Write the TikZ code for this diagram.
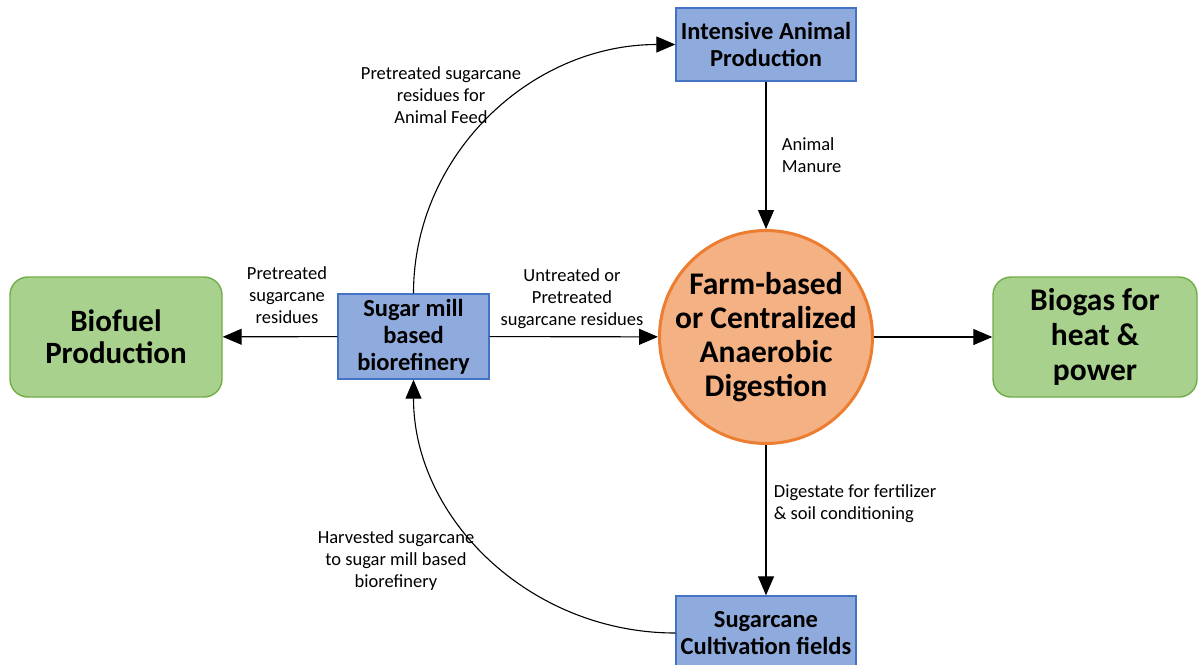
\documentclass[tikz,border=0pt]{standalone}
\usepackage{fontspec}
\setmainfont{Carlito}
\usetikzlibrary{arrows.meta, shapes, positioning, calc}
\definecolor{stepblue}{HTML}{8FAADC}
\definecolor{stepblueline}{HTML}{4472C4}
\definecolor{outgreen}{HTML}{A9D18E}
\definecolor{outgreenline}{HTML}{70AD47}
\definecolor{digestfill}{HTML}{F4B183}
\definecolor{digestline}{HTML}{ED7D31}

\begin{document}
\begin{tikzpicture}
            [x=1pt, y=-1pt, ->, >={Triangle[length=19pt,width=16pt]}, line width=1.1pt,
            process/.style={rectangle, align=center, draw=stepblueline, fill=stepblue,
                line width=1.4pt, inner sep=0pt, font=\bfseries\fontsize{24.5}{27}\selectfont},
            product/.style={rectangle, rounded corners=18pt, align=center, draw=outgreenline,
                fill=outgreen, line width=1.4pt, inner sep=0pt, minimum height=120pt},
            flowlabel/.style={align=center, font=\fontsize{18.5}{22}\selectfont}]

            \useasboundingbox (0,0) rectangle (1198,664);

            \node[process, minimum width=180pt, minimum height=73pt] (iap) at (766,44.5) {Intensive Animal\\Production};
            \node[process, minimum width=151pt, minimum height=85pt] (mill) at (413.5,336.5) {Sugar mill\\based\\biorefinery};
            \node[process, minimum width=180pt, minimum height=74pt] (cult) at (766,633) {Sugarcane\\Cultivation fields};
            \node[circle, draw=digestline, fill=digestfill, line width=3pt, minimum size=213pt,
                inner sep=-10pt, align=center, font=\bfseries\fontsize{31.5}{34}\selectfont] (ad) at (766,337)
                {Farm-based\\or Centralized\\Anaerobic\\Digestion};
            \node[product, minimum width=212pt, font=\bfseries\fontsize{31}{32}\selectfont] (biofuel) at (116,337) {Biofuel\\Production};
            \node[product, minimum width=204pt, font=\bfseries\fontsize{31.5}{35}\selectfont] (biogas) at (1095,337) {Biogas for\\heat \&\\power};

            \draw (iap) -- (ad);
            \draw (mill) -- (ad);
            \draw (mill) -- (biofuel);
            \draw (ad) -- (biogas);
            \draw (ad) -- (cult);
            \draw (mill.north) .. controls +(0,-138) and +(-145,0) .. (iap.west);
            \draw (cult.west) .. controls +(-145,0) and +(0,139) .. (mill.south);

            \node[flowlabel] (feedlabel) at (441,95) {Pretreated sugarcane\\residues for\\Animal Feed};
            \node[flowlabel, align=left, anchor=west] (manurelabel) at (778,155) {Animal\\Manure};
            \node[flowlabel] (fuellabel) at (287,295) {Pretreated\\sugarcane\\residues};
            \node[flowlabel] (untreatedlabel) at (572,299) {Untreated or\\Pretreated\\sugarcane residues};
            \node[flowlabel, align=left, anchor=west] (digestatelabel) at (770,504) {Digestate for fertilizer\\\& soil conditioning};
            \node[flowlabel] (harvestlabel) at (396,561) {Harvested sugarcane\\to sugar mill based\\biorefinery};
        \end{tikzpicture}
\end{document}
